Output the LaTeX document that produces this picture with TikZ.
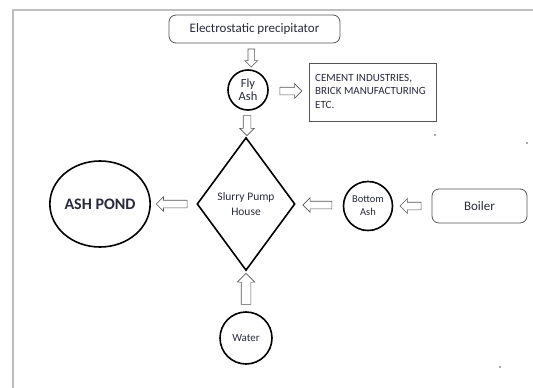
\documentclass[tikz,border=0pt]{standalone}
\usepackage{fontspec}
\setmainfont{Carlito}
\usetikzlibrary{shapes.geometric,shapes.arrows,calc}
\definecolor{txtc}{RGB}{40,42,58}
\definecolor{boxc}{RGB}{85,85,85}
\definecolor{framec}{RGB}{190,190,190}
\begin{document}
\begin{tikzpicture}[x=1pt,y=-1pt,
  circ/.style={circle,draw=black,line width=1.6pt,inner sep=0pt,text=txtc,align=center},
  ell/.style={ellipse,draw=black,line width=1.6pt,inner sep=0pt,text=txtc,align=center},
  rbox/.style={draw=boxc,rounded corners=7pt,line width=0.8pt,text=txtc,inner sep=0pt},
  sbox/.style={draw=boxc,line width=0.8pt,text=txtc,inner sep=0pt},
  barrow/.style={single arrow,draw=boxc,fill=white,line width=0.6pt,inner xsep=0pt,inner ysep=3.5pt,
     single arrow head extend=3.5pt,single arrow head indent=0pt},
  dotm/.style={circle,fill=boxc,inner sep=0pt,minimum size=1.8pt}]
\useasboundingbox (0,0) rectangle (533,388);
% frame
\draw[framec,line width=2pt] (533,10) -- (13,10) -- (13,388);
% nodes
\node[rbox,minimum width=171pt,minimum height=28pt,font=\fontsize{13}{15}\selectfont] (ep) at (254.5,29) {Electrostatic precipitator};
\node[circ,minimum size=40pt,font=\fontsize{12.5}{13}\selectfont] (fly) at (248,90) {Fly\\Ash};
\node[sbox,minimum width=127pt,minimum height=58pt] (cem) at (373,92) {};
\node[anchor=north west,text=txtc,align=left,inner sep=0pt,font=\fontsize{11}{13.5}\selectfont] (cemt) at (315,74) {CEMENT INDUSTRIES,\\BRICK MANUFACTURING\\ETC.};
\node[diamond,draw=black,line width=1.6pt,minimum width=98pt,minimum height=133pt,inner sep=0pt,text=txtc,align=center,font=\fontsize{11.5}{15}\selectfont] (pump) at (246,204) {Slurry Pump\\House};
\node[ell,minimum width=90pt,minimum height=86pt,font=\bfseries\fontsize{16}{18}\selectfont] (pond) at (100,204) {ASH POND};
\node[circ,minimum size=49pt,font=\fontsize{10.5}{13}\selectfont] (bash) at (368,206) {Bottom\\Ash};
\node[rbox,minimum width=95pt,minimum height=34pt,font=\fontsize{13}{15}\selectfont] (boiler) at (479.5,206) {Boiler};
\node[circ,minimum size=52pt,font=\fontsize{11}{13}\selectfont] (water) at (246,338) {Water};
% block arrows
\node[barrow,rotate=-90,minimum height=18pt,inner ysep=3pt,single arrow head extend=3pt] (a1) at ($(ep.south)!0.5!(fly.north)$) {};
\node[barrow,minimum height=22pt] (a2) at ($(fly.east)!0.5!(cem.west)$) {};
\node[barrow,rotate=-90,minimum height=20pt] (a3) at ($(fly.south)!0.5!(pump.north)$) {};
\node[barrow,rotate=180,minimum height=31pt] (a4) at ($(pump.west)!0.5!(pond.east)$) {};
\node[barrow,rotate=180,minimum height=29pt] (a5) at ($(bash.west)!0.5!(pump.east)$) {};
\node[barrow,rotate=180,minimum height=21pt] (a6) at ($(boiler.west)!0.5!(bash.east)$) {};
\node[barrow,rotate=90,minimum height=31pt,inner ysep=4.5pt,single arrow head extend=4pt] (a7) at ($(water.north)!0.5!(pump.south)$) {};
% stray dots
\node[dotm] (d1) at (435,135) {};
\node[dotm] (d2) at (527,143) {};
\node[dotm] (d3) at (500,367) {};
\end{tikzpicture}
\end{document}
